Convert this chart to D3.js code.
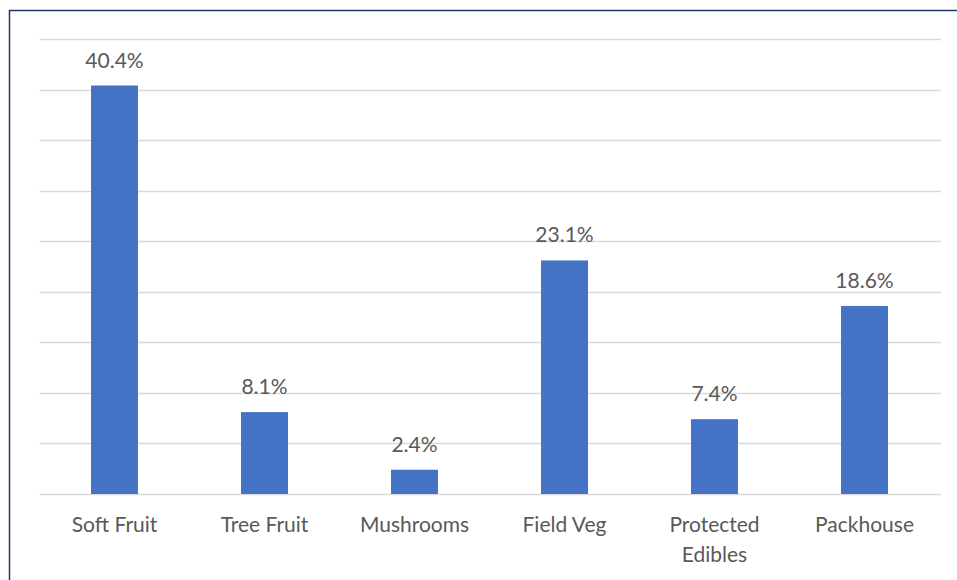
<!DOCTYPE html>
<html>
<head>
<meta charset="utf-8">
<script src="https://cdn.jsdelivr.net/npm/d3@7"></script>
<style>
  body { margin: 0; background: #fff; }
  #chart text { font-family: Lato, "Open Sans", sans-serif; fill: #595959; }
</style>
</head>
<body>
<div id="chart"></div>
<script>
// Daten
const categories = ["Soft Fruit", "Tree Fruit", "Mushrooms", "Field Veg", "Protected Edibles", "Packhouse"];
const values = [40.4, 8.1, 2.4, 23.1, 7.4, 18.6];
const gridTicks = [0, 5, 10, 15, 20, 25, 30, 35, 40, 45];

const width = 957;
const height = 580;
const margin = { top: 39, right: 17.5, bottom: 86, left: 39.5 };

const svg = d3.select("#chart")
    .append("svg")
    .attr("width", width)
    .attr("height", height);

// Rahmen
svg.append("rect")
    .attr("x", 9.5)
    .attr("y", 10.5)
    .attr("width", 960)
    .attr("height", 600)
    .attr("fill", "none")
    .attr("stroke", "#203864")
    .attr("stroke-width", 1.5);

const x = d3.scaleBand()
    .domain(categories)
    .range([margin.left, width - margin.right])
    .paddingInner(0.687)
    .paddingOuter(0.3435);

const y = d3.scaleLinear()
    .domain([0, 45])
    .range([height - margin.bottom, margin.top]);

// Gitterlinien
svg.append("g")
    .selectAll("line")
    .data(gridTicks)
    .enter()
    .append("line")
    .attr("x1", margin.left)
    .attr("x2", width - 16)
    .attr("y1", d => Math.round(y(d)) + 0.5)
    .attr("y2", d => Math.round(y(d)) + 0.5)
    .attr("stroke", "#d9d9d9")
    .attr("stroke-width", 1.5);

// Balken
svg.append("g")
    .selectAll("rect")
    .data(values)
    .enter()
    .append("rect")
    .attr("x", (d, i) => x(categories[i]))
    .attr("width", x.bandwidth())
    .attr("y", d => y(d))
    .attr("height", d => y(0) - y(d))
    .attr("fill", "#4472c4");

// Werte
svg.append("g")
    .selectAll("text")
    .data(values)
    .enter()
    .append("text")
    .attr("x", (d, i) => x(categories[i]) + x.bandwidth() / 2)
    .attr("y", d => y(d) - 18)
    .attr("text-anchor", "middle")
    .style("font-size", "21px")
    .text(d => d.toFixed(1) + "%");

// Kategorien
const xAxis = d3.axisBottom(x).tickSize(0).tickPadding(0);
const axisG = svg.append("g")
    .attr("transform", `translate(0,${y(0)})`)
    .call(xAxis);
axisG.select(".domain").remove();
axisG.selectAll(".tick text").remove();
axisG.selectAll(".tick")
    .append("text")
    .attr("text-anchor", "middle")
    .style("font-size", "21px")
    .each(function(d) {
        const words = d === "Protected Edibles" ? ["Protected", "Edibles"] : [d];
        const t = d3.select(this);
        words.forEach((w, i) => {
            t.append("tspan")
                .attr("x", 0)
                .attr("y", 38 + i * 30)
                .text(w);
        });
    });
</script>
</body>
</html>
